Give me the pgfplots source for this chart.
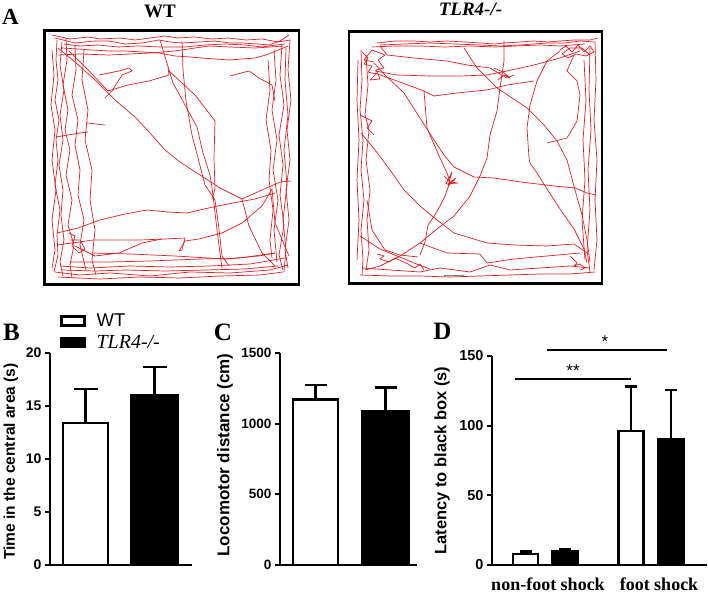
\documentclass[border=0pt]{standalone}
\usepackage{pgfplots}
\pgfplotsset{compat=1.18}
\usepackage{fontspec}
\setmainfont{Liberation Sans}
\newfontfamily\serif{Liberation Serif}
\definecolor{track}{RGB}{226,32,36}
\pgfplotsset{
  trackaxis/.style={scale only axis, anchor=center, ticks=none, clip=true,
    y dir=reverse, axis line style={line width=2.2pt, black},
    cycle list={color=track,line width=0.7pt,mark=none,solid,line join=round\\}},
  gp/.style={scale only axis, anchor=center, clip=false,
    axis x line=bottom, axis y line=left,
    axis line style={line width=2pt, -},
    ymin=0,
    ytick style={line width=2pt, black},
    tick align=outside, major tick length=5pt,
    /pgf/number format/assume math mode=true,
    /pgf/number format/1000 sep={}},
  bw/.style={ybar, bar shift=0pt, bar width=#1, draw=black, line width=2.4pt, line join=miter},
  eb/.style={error bars/.cd, y dir=plus, y explicit,
    error bar style={line width=2.4pt, black},
    error mark options={rotate=90, line width=2.4pt, black, mark size=#1}},
}
\begin{document}
\begin{tikzpicture}
\path[use as bounding box] (0pt,0pt) rectangle (708pt,594pt);
\node[font=\serif\bfseries\fontsize{23}{23}\selectfont] at (10.5pt,577.5pt) {A};
\node[font=\serif\bfseries\fontsize{25}{25}\selectfont] at (11.5pt,261.5pt) {B};
\node[font=\serif\bfseries\fontsize{25}{25}\selectfont] at (223pt,261.5pt) {C};
\node[font=\serif\bfseries\fontsize{25}{25}\selectfont] at (442.5pt,262.5pt) {D};

% ---------------- WT track ----------------
\begin{axis}[trackaxis, at={(171.75pt,436.5pt)}, width=254.5pt, height=254pt,
  xmin=44.5, xmax=299, ymin=30.5, ymax=284.5,
  title={\serif\bfseries WT}, title style={at={(axis description cs:0.454,1.051)}, anchor=center, font=\fontsize{19}{19}\selectfont}]
\addplot coordinates {(55,38)(75,43)(95,41)(109,41)(125,44)(142,43)(159,40)(170,42)(182,43)(200,42)(215,41)(230,43)(242,43)(258,44)(269,45)(280,41)(289,35)};
\addplot coordinates {(62,48)(78,49)(92,50)(110,51)(125,51)(142,52)(159,53)(175,56)(190,57)(202,58)(215,59)(229,60)(242,59)(255,58)(266,55)(276,51)(288,46)};
\addplot coordinates {(58,55)(80,54)(109,55)(130,54)(150,53)(175,51)(195,48)(209,46)(230,47)(255,48)(270,47)(283,46)};
\addplot coordinates {(52,35)(70,39)(88,37)(100,39)(120,38)(135,40)(150,38)(165,36)(178,38)(195,37)(212,39)(228,38)(246,40)(262,39)(278,42)(290,40)};
\addplot coordinates {(64,44)(80,46)(98,45)(118,47)(138,46)(160,47)(185,47)(205,45)(225,44)(245,45)(262,47)(276,45)(285,44)};
\addplot coordinates {(57,40)(56,60)(58,80)(55,100)(59,120)(56,140)(58,160)(55,185)(60,210)(57,235)(58,255)(54,272)};
\addplot coordinates {(66,38)(67,60)(63,85)(68,110)(65,130)(70,150)(66,175)(72,200)(68,225)(74,245)(70,265)(72,278)};
\addplot coordinates {(75,45)(76,70)(72,95)(78,120)(75,145)(80,170)(78,195)(84,220)(80,245)(86,270)};
\addplot coordinates {(84,50)(82,80)(88,110)(85,140)(92,170)(90,200)(95,230)(92,260)(96,275)};
\addplot coordinates {(62,42)(60,65)(64,90)(60,115)(63,140)(59,165)(63,190)(61,215)(64,240)(60,262)(63,276)};
\addplot coordinates {(52,50)(54,75)(51,105)(55,130)(52,160)(56,190)(52,220)(55,250)(52,268)};
\addplot coordinates {(290,40)(288,70)(291,100)(287,130)(290,160)(286,190)(289,220)(285,250)(288,268)};
\addplot coordinates {(282,45)(280,75)(284,105)(279,135)(283,165)(280,195)(284,225)(279,255)(283,270)};
\addplot coordinates {(274,50)(276,80)(272,110)(277,140)(273,170)(278,200)(274,230)(277,262)};
\addplot coordinates {(268,60)(270,90)(266,120)(271,150)(269,180)(273,210)(270,240)(272,258)};
\addplot coordinates {(286,48)(285,80)(288,115)(284,150)(287,185)(283,220)(286,250)(284,272)};
\addplot coordinates {(55,272)(80,275)(110,273)(150,276)(190,272)(230,273)(270,270)(288,265)};
\addplot coordinates {(60,266)(90,268)(130,266)(170,267)(210,266)(250,264)(285,258)};
\addplot coordinates {(58,277)(100,279)(140,277)(180,278)(220,276)(260,275)(283,272)};
\addplot coordinates {(70,262)(110,262)(150,261)(200,259)(240,258)(275,253)};
\addplot coordinates {(62,270)(95,271)(125,270)(165,271)(205,270)(245,269)(278,266)};
\addplot coordinates {(58,48)(75,62)(95,80)(115,100)(135,117)(150,133)(165,150)(180,162)(200,175)(220,188)(242,199)(262,190)(280,182)(291,181)};
\addplot coordinates {(160,40)(166,60)(173,83)(185,105)(197,127)(203,153)(210,175)(213,195)(217,230)(220,253)(222,268)};
\addplot coordinates {(182,41)(183,70)(186,101)(192,135)(198,158)(205,185)(215,200)(219,229)(222,256)(229,266)};
\addplot coordinates {(69,51)(90,72)(108,91)(128,85)(149,81)(169,75)(168,68)};
\addplot coordinates {(99,75)(119,71)(129,68)(132,71)(122,75)(112,91)(105,98)};
\addplot coordinates {(230,76)(249,71)(259,78)(272,85)(275,101)};
\addplot coordinates {(87,123)(105,125)};
\addplot coordinates {(56,137)(80,133)(88,132)};
\addplot coordinates {(169,71)(195,95)(215,121)(214,158)(215,189)(212,199)};
\addplot coordinates {(57,233)(78,228)(100,220)(125,214)(147,210)(168,212)(187,213)(213,207)(233,203)(255,199)(275,193)};
\addplot coordinates {(58,245)(93,240)(120,240)(140,240)(165,239)(185,238)(182,250)(179,251)};
\addplot coordinates {(179,251)(185,241)(199,239)(222,233)(242,223)(262,206)(272,189)};
\addplot coordinates {(75,246)(95,256)(119,253)(142,243)(162,239)};
\addplot coordinates {(92,253)(130,254)(175,256)(225,259)(259,256)(275,253)};
\addplot coordinates {(242,199)(249,226)(262,253)(275,266)};
\addplot coordinates {(272,189)(275,223)(289,256)};
\addplot coordinates {(69,233)(75,236)(72,246)(79,253)(85,249)(80,240)(70,240)};
\end{axis}

% ---------------- TLR4 track ----------------
\begin{axis}[trackaxis, at={(475.5pt,436.5pt)}, width=253pt, height=252pt,
  xmin=349, xmax=602, ymin=31.5, ymax=283.5,
  title={\serif\bfseries\itshape TLR4-/-}, title style={at={(axis description cs:0.480,1.063)}, anchor=center, font=\fontsize{19}{19}\selectfont}]
\addplot coordinates {(377,43)(395,41)(414,41)(430,42)(447,41)(465,42)(480,43)(495,44)(504,43)(520,42)(534,41)(548,42)(560,41)(575,40)(590,40)(598,38)};
\addplot coordinates {(380,45)(405,44)(430,43)(455,44)(480,45)(500,46)(520,45)(547,43)(565,43)(580,41)(595,42)};
\addplot coordinates {(372,47)(395,46)(420,46)(445,47)(470,46)(495,47)(515,46)(540,45)(560,46)(585,44)};
\addplot coordinates {(362,52)(368,58)(364,64)(372,66)(368,72)(376,74)(370,80)(380,79)(376,70)(384,68)(378,60)(385,55)(372,50)(364,60)(374,62)};
\addplot coordinates {(560,50)(566,46)(572,52)(578,45)(584,52)(590,46)(594,52)(586,56)(576,54)(568,58)(562,54)(570,48)(582,48)(590,55)};
\addplot coordinates {(494,68)(503,72)(510,78)(504,75)(498,80)};
\addplot coordinates {(361,50)(362,80)(360,110)(363,140)(361,170)(364,200)(361,230)(363,260)(362,275)};
\addplot coordinates {(366,55)(368,85)(365,115)(369,130)(366,160)(370,190)(367,220)(369,250)(366,270)};
\addplot coordinates {(358,60)(357,100)(359,140)(357,180)(359,220)(357,260)};
\addplot coordinates {(360,115)(372,121)(367,128)(374,135)};
\addplot coordinates {(595,42)(596,80)(594,120)(597,160)(595,200)(597,240)(594,270)};
\addplot coordinates {(590,48)(589,90)(591,130)(588,170)(590,210)(587,250)(590,272)};
\addplot coordinates {(584,60)(586,100)(583,140)(585,180)(582,220)(585,260)};
\addplot coordinates {(360,275)(390,276)(420,276)(450,277)(480,276)(510,275)(540,274)(570,274)(595,272)};
\addplot coordinates {(362,268)(390,270)(420,272)(440,268)(470,272)(490,265)(510,270)(540,268)(570,266)(590,268)};
\addplot coordinates {(377,254)(384,256)(380,259)(389,262)(395,258)(408,264)(415,268)(420,264)(424,270)};
\addplot coordinates {(570,256)(577,263)(574,266)(580,264)(585,268)(580,270)};
\addplot coordinates {(374,63)(385,75)(404,93)(420,118)(434,140)(444,155)(454,167)(474,177)(494,178)(521,182)(554,186)(575,188)(587,193)(596,195)};
\addplot coordinates {(375,71)(397,75)(430,76)(460,76)(487,75)(507,71)(534,65)(560,58)(580,51)};
\addplot coordinates {(375,73)(397,81)(424,91)(434,96)(457,93)(487,90)(507,85)(534,81)};
\addplot coordinates {(380,46)(387,55)(414,58)(447,61)(467,65)(490,68)(507,78)(514,75)};
\addplot coordinates {(504,41)(504,61)(500,88)(497,111)(490,135)(487,158)(480,176)(470,196)(454,216)(437,229)(420,243)(400,256)(380,266)(365,270)};
\addplot coordinates {(464,48)(477,68)(497,88)(527,108)(544,125)(557,141)(567,160)(575,190)(582,215)(587,240)(590,262)};
\addplot coordinates {(560,51)(547,61)(537,81)(530,105)(527,128)(529,158)(530,163)(537,173)(547,189)(560,209)(574,229)(584,249)(587,263)};
\addplot coordinates {(574,55)(567,71)(577,81)(580,95)(577,121)(567,138)(547,143)};
\addplot coordinates {(361,133)(375,150)(390,170)(404,190)(420,206)(437,220)(454,233)(487,243)(514,245)(547,246)(574,244)(587,253)};
\addplot coordinates {(444,176)(450,182)(456,178)(448,186)(452,172)(446,184)(458,183)(450,182)(445,196)(440,206)(433,218)(428,225)(425,242)(420,255)};
\addplot coordinates {(367,200)(372,230)(385,250)(400,255)(418,257)};
\addplot coordinates {(424,91)(427,128)(440,158)(447,173)(450,182)};
\addplot coordinates {(420,243)(447,253)(480,254)(487,263)(514,259)(547,256)(580,253)};
\addplot coordinates {(360,236)(380,249)(414,263)(430,269)};
\addplot[gray, line width=0.8pt] coordinates {(444,275.5)(464,275.5)};
\end{axis}

% ---------------- B ----------------
\begin{axis}[gp, at={(121pt,135pt)}, width=142pt, height=212pt,
  xmin=0.4855, xmax=2.5435, ymax=20, ytick={0,5,10,15,20}, xtick=\empty,
  y tick label style={font=\bfseries\fontsize{14}{14}\selectfont},
  ylabel={Time in the central area (s)},
  ylabel style={at={(axis description cs:-0.275,0.488)}, anchor=center, font=\bfseries\fontsize{15.5}{15.5}\selectfont},
  legend style={at={(axis description cs:0.07,1.195)}, anchor=north west, draw=none, fill=none, row sep=3pt, column sep=9pt, inner sep=0pt},
  legend cell align=left]
\addlegendimage{legend image code/.code={\draw[line width=2.4pt, fill=white] (0pt,-4.5pt) rectangle (23pt,4.5pt);}}
\addlegendentry{\fontsize{18.5}{18.5}\selectfont WT}
\addlegendimage{legend image code/.code={\draw[line width=2.4pt, fill=black] (0pt,-4.5pt) rectangle (23pt,4.5pt);}}
\addlegendentry{\serif\itshape\fontsize{20}{20}\selectfont TLR4-/-}
\addplot[bw=45pt, fill=white, eb=12pt] coordinates {(1,13.4) +- (0,3.2)};
\addplot[bw=46pt, fill=black, eb=12pt] coordinates {(2,16.0) +- (0,2.7)};
\end{axis}

% ---------------- C ----------------
\begin{axis}[gp, at={(348.5pt,135pt)}, width=137pt, height=212pt,
  xmin=0.4929, xmax=2.45, ymax=1500, ytick={0,500,1000,1500}, xtick=\empty,
  y tick label style={font=\bfseries\fontsize{13.5}{13.5}\selectfont},
  ylabel={Locomotor distance (cm)},
  ylabel style={at={(axis description cs:-0.4015,0.519)}, anchor=center, font=\bfseries\fontsize{17}{17}\selectfont}]
\addplot[bw=45pt, fill=white, eb=11pt] coordinates {(1,1170) +- (0,105)};
\addplot[bw=46pt, fill=black, eb=11pt] coordinates {(2,1090) +- (0,165)};
\end{axis}

% ---------------- D ----------------
\begin{axis}[gp, at={(599.5pt,133.5pt)}, width=215pt, height=209pt,
  xmin=0, xmax=215, ymax=150, ytick={0,50,100,150},
  xtick={56,167}, xticklabels={non-foot shock, foot shock},
  x tick style={draw=none},
  x tick label style={font=\serif\bfseries\fontsize{18}{18}\selectfont, yshift=-4pt},
  y tick label style={font=\bfseries\fontsize{14.5}{14.5}\selectfont},
  ylabel={Latency to black box (s)},
  ylabel style={at={(axis description cs:-0.2326,0.5)}, anchor=center, font=\bfseries\fontsize{16.5}{16.5}\selectfont}]
\addplot[bw=25pt, fill=white, eb=6pt] coordinates {(33.5,7.9) +- (0,1.7)};
\addplot[bw=25pt, fill=black, eb=6pt] coordinates {(73,9.6) +- (0,1.9)};
\addplot[bw=25pt, fill=white, eb=6pt] coordinates {(139,96.2) +- (0,31.8)};
\addplot[bw=25pt, fill=black, eb=6pt] coordinates {(179,90.2) +- (0,35.2)};
\draw[line width=2pt] (axis cs:23,133.5) -- (axis cs:139,133.5);
\draw[line width=2pt] (axis cs:55,154.3) -- (axis cs:175,154.3);
\node[font=\fontsize{17}{17}\selectfont] at (axis cs:81,139.5) {**};
\node[font=\fontsize{17}{17}\selectfont] at (axis cs:113,160) {*};
\end{axis}
\end{tikzpicture}
\end{document}
